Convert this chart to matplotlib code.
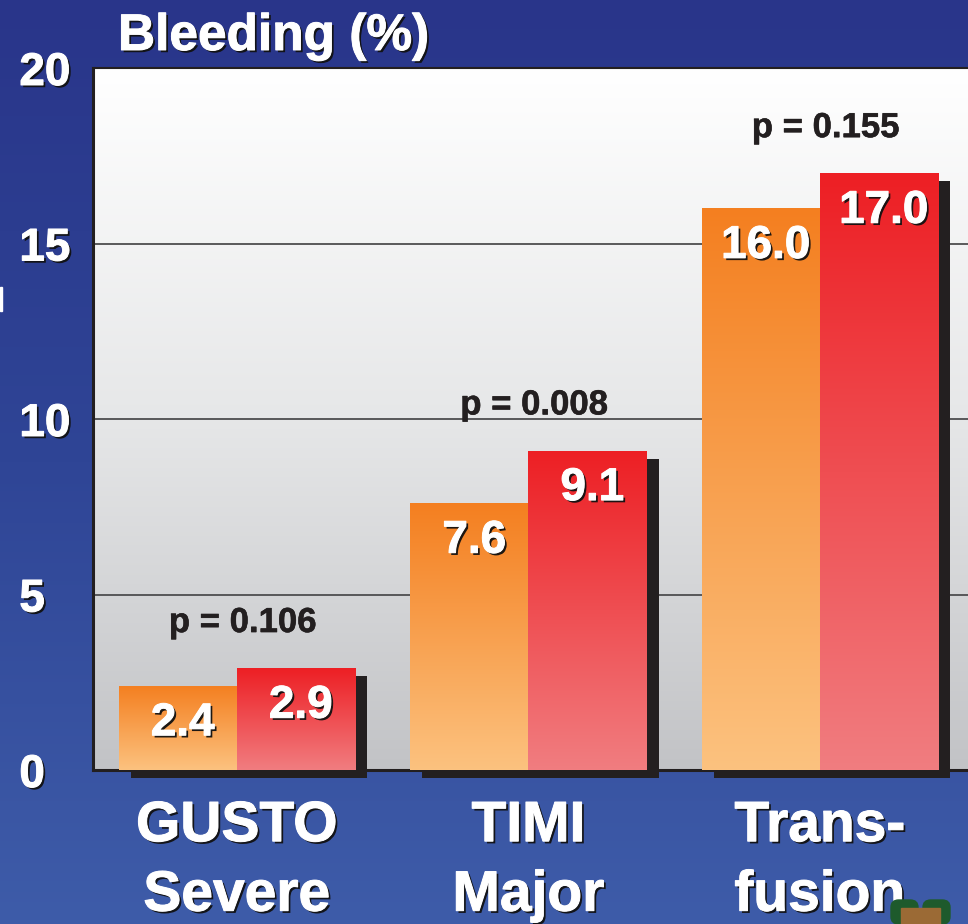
"""Bleeding (%) slide chart: paired gradient bars with drop shadows."""
import matplotlib
matplotlib.use("Agg")
import matplotlib.pyplot as plt
import matplotlib.patheffects as pe
import matplotlib.transforms as mtransforms
from matplotlib.colors import LinearSegmentedColormap
from matplotlib.patches import FancyBboxPatch, Rectangle
import numpy as np

categories = ["GUSTO\nSevere", "TIMI\nMajor", "Trans-\nfusion"]
group_a = [2.4, 7.6, 16.0]   # orange bars
group_b = [2.9, 9.1, 17.0]   # red bars
p_labels = ["p = 0.106", "p = 0.008", "p = 0.155"]
y_ticks = [0, 5, 10, 15, 20]

FONT = "Liberation Sans"
W, H, DPI = 968, 924, 100

orange_cmap = LinearSegmentedColormap.from_list("orange", ["#fcc27f", "#f47f20"])
red_cmap = LinearSegmentedColormap.from_list("red", ["#f17d80", "#ed1f24"])
bg_cmap = LinearSegmentedColormap.from_list("bg", ["#3e5ca9", "#2f4596", "#29358a"])
panel_cmap = LinearSegmentedColormap.from_list("panel", ["#c2c3c6", "#e6e7e8", "#ffffff"])


def heavy(color, shadow=True, stroke=0.7):
    # fake a heavier weight with a thin stroke of the same colour
    fx = []
    if shadow:
        fx.append(pe.SimplePatchShadow(offset=(1.6, -1.6), shadow_rgbFace="#111111",
                                       alpha=0.95))
    fx.append(pe.withStroke(linewidth=stroke, foreground=color))
    return fx


fig = plt.figure(figsize=(W / DPI, H / DPI), dpi=DPI)

# slide background
bg = fig.add_axes([0, 0, 1, 1], zorder=-5)
bg.imshow(np.linspace(0, 1, 256).reshape(-1, 1), cmap=bg_cmap, aspect="auto",
          extent=[0, 1, 0, 1], origin="lower")
bg.set_axis_off()

ax = fig.add_axes([93 / W, 1 - 770 / H, 1 - 93 / W, (770 - 68) / H])
ax.set_facecolor("none")
ax.imshow(np.linspace(0, 1, 256).reshape(-1, 1), cmap=panel_cmap, aspect="auto",
          extent=[0, 1, 0, 1], origin="lower", transform=ax.transAxes, zorder=0)

x = np.arange(len(categories))
width = 0.405

for y in y_ticks[1:-1]:
    ax.axhline(y, color="#4d4d4f", lw=1.3, zorder=1)

# drop shadows, shifted right and down in pixels
shift = mtransforms.ScaledTranslation(12 / DPI, -8 / DPI, fig.dpi_scale_trans)
for xs, vals in ((x - width / 2, group_a), (x + width / 2, group_b)):
    sh = ax.bar(xs, vals, width, color="#231f20", zorder=2)
    for r in sh:
        r.set_transform(ax.transData + shift)
        r.set_clip_on(False)

grad = np.linspace(0, 1, 256).reshape(-1, 1)
for xs, vals, cmap in ((x - width / 2, group_a, orange_cmap),
                       (x + width / 2, group_b, red_cmap)):
    bars = ax.bar(xs, vals, width, color="none", zorder=3)
    for r in bars:
        x0, y0 = r.get_x(), r.get_y()
        im = ax.imshow(grad, cmap=cmap, aspect="auto", origin="lower",
                       extent=[x0, x0 + r.get_width(), y0, y0 + r.get_height()],
                       zorder=3)
        im.set_clip_path(r)

ax.set_xlim(-0.494, 2.508)
ax.set_ylim(0, 20)

# value labels inside bars
for xs, vals in ((x - width / 2, group_a), (x + width / 2, group_b)):
    for xi, v in zip(xs, vals):
        ax.annotate(f"{v:.1f}", (xi, v), xytext=(3.5, -27), textcoords="offset points",
                    ha="center", va="center", fontsize=33, fontweight="bold",
                    color="white", family=FONT, zorder=5, path_effects=heavy("white"))

for xi, top, lab in zip(x, group_b, p_labels):
    ax.annotate(lab, (xi, top), xytext=(4, 21), textcoords="offset points",
                ha="center", va="bottom", fontsize=25, fontweight="bold",
                color="#231f20", family=FONT, zorder=5,
                path_effects=heavy("#231f20", shadow=False, stroke=0.4))

ax.set_yticks(y_ticks)
ax.set_yticklabels([str(t) for t in y_ticks])
ax.set_xticks(x)
ax.set_xticklabels(categories)
ax.tick_params(axis="both", length=0)
ax.tick_params(axis="y", pad=53)
ax.tick_params(axis="x", pad=21)
for lab in ax.get_yticklabels():
    lab.set_ha("left")
    lab.set_fontsize(33)
    lab.set_fontweight("bold")
    lab.set_color("white")
    lab.set_family(FONT)
    lab.set_path_effects(heavy("white"))
for lab in ax.get_xticklabels():
    lab.set_fontsize(41)
    lab.set_fontweight("bold")
    lab.set_color("white")
    lab.set_family(FONT)
    lab.set_linespacing(1.37)
    lab.set_path_effects(heavy("white"))

for side in ("left", "bottom", "top"):
    ax.spines[side].set_color("#231f20")
    ax.spines[side].set_linewidth(2.2)
ax.spines["top"].set_linewidth(1.5)
ax.spines["right"].set_visible(False)

fig.text(118 / W, 1 - 50 / H, "Bleeding (%)", ha="left", va="baseline",
         fontsize=37, fontweight="bold", color="white", family=FONT,
         path_effects=heavy("white"))

# small slide artefacts
fig.add_artist(Rectangle((0, 1 - 311 / H), 2 / W, 24 / H, color="white",
                         transform=fig.transFigure))
for gx in (891, 923):
    fig.add_artist(FancyBboxPatch((gx / W, 1 - 924 / H), 27 / W, 24 / H,
                                  boxstyle="round,pad=0,rounding_size=0.008",
                                  color="#1e5a2c", transform=fig.transFigure))
fig.add_artist(Rectangle((901 / W, 0), 39 / W, 16 / H, color="#9b6a35",
                         transform=fig.transFigure))

fig.savefig("out.png", dpi=DPI)
plt.close(fig)
